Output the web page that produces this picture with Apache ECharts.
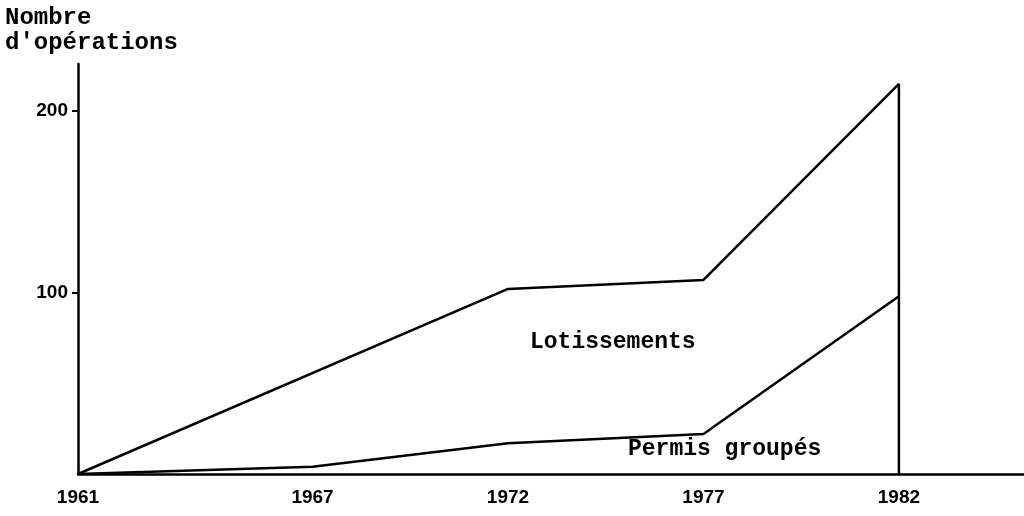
<!DOCTYPE html>
<html>
<head>
<meta charset="utf-8">
<script src="https://cdn.jsdelivr.net/npm/echarts@6/dist/echarts.min.js"></script>
<style>
  html, body { margin: 0; padding: 0; background: #fff; }
  #chart { width: 1024px; height: 516px; }
</style>
</head>
<body>
<div id="chart"></div>
<script>
// Years shown on the horizontal axis
const yearTicks = [1961, 1967, 1972, 1977, 1982];
// Values shown on the vertical axis
const valueTicks = [100, 200];
// Lotissements: [year, number of operations]; the last point closes the shape at 1982
const lotYears = [1961, 1972, 1977, 1982, 1982];
const lotValues = [0, 102, 107, 215, 0];
// Permis groupés: [year, number of operations]
const permisYears = [1961, 1967, 1972, 1977, 1982];
const permisValues = [0, 4, 17, 22, 98];

const toPairs = (xs, ys) => xs.map((x, i) => [x, ys[i]]);

const mono = "'Liberation Mono', 'DejaVu Sans Mono', monospace";
const sans = "'Liberation Sans', Arial, sans-serif";

const chart = echarts.init(document.getElementById('chart'), null, { renderer: 'canvas' });
chart.setOption({
  animation: false,
  backgroundColor: '#ffffff',
  grid: { left: 78, right: 0, top: 64, bottom: 42, containLabel: false },
  xAxis: {
    type: 'value',
    min: 1961,
    max: 1985.2,
    splitLine: { show: false },
    axisTick: { show: false },
    axisLine: { show: true, onZero: true, lineStyle: { color: '#000', width: 2.5 } },
    axisLabel: {
      customValues: yearTicks,
      formatter: v => String(v),
      color: '#000',
      fontFamily: sans,
      fontWeight: 'bold',
      fontSize: 19,
      margin: 14
    }
  },
  yAxis: {
    type: 'value',
    min: 0,
    max: 226,
    splitLine: { show: false },
    axisLine: { show: true, lineStyle: { color: '#000', width: 2.5 } },
    axisTick: { show: true, customValues: valueTicks, length: 6, lineStyle: { color: '#000', width: 2 } },
    axisLabel: {
      customValues: valueTicks,
      color: '#000',
      fontFamily: sans,
      fontWeight: 'bold',
      fontSize: 19,
      margin: 10
    }
  },
  graphic: [
    { type: 'text', left: 5, top: 6, style: { text: 'Nombre', font: 'bold 24px ' + mono, fill: '#000' } },
    { type: 'text', left: 5, top: 31, style: { text: "d'opérations", font: 'bold 24px ' + mono, fill: '#000' } },
    { type: 'text', left: 530, top: 331, style: { text: 'Lotissements', font: 'bold 23px ' + mono, fill: '#000' } },
    { type: 'text', left: 628, top: 438, style: { text: 'Permis groupés', font: 'bold 23px ' + mono, fill: '#000' } }
  ],
  series: [
    {
      name: 'Lotissements',
      type: 'line',
      data: toPairs(lotYears, lotValues),
      symbol: 'none',
      lineStyle: { color: '#000', width: 2.5 },
      z: 5
    },
    {
      name: 'Permis groupés',
      type: 'line',
      data: toPairs(permisYears, permisValues),
      symbol: 'none',
      lineStyle: { color: '#000', width: 2.5 },
      z: 5
    }
  ]
});
</script>
</body>
</html>
